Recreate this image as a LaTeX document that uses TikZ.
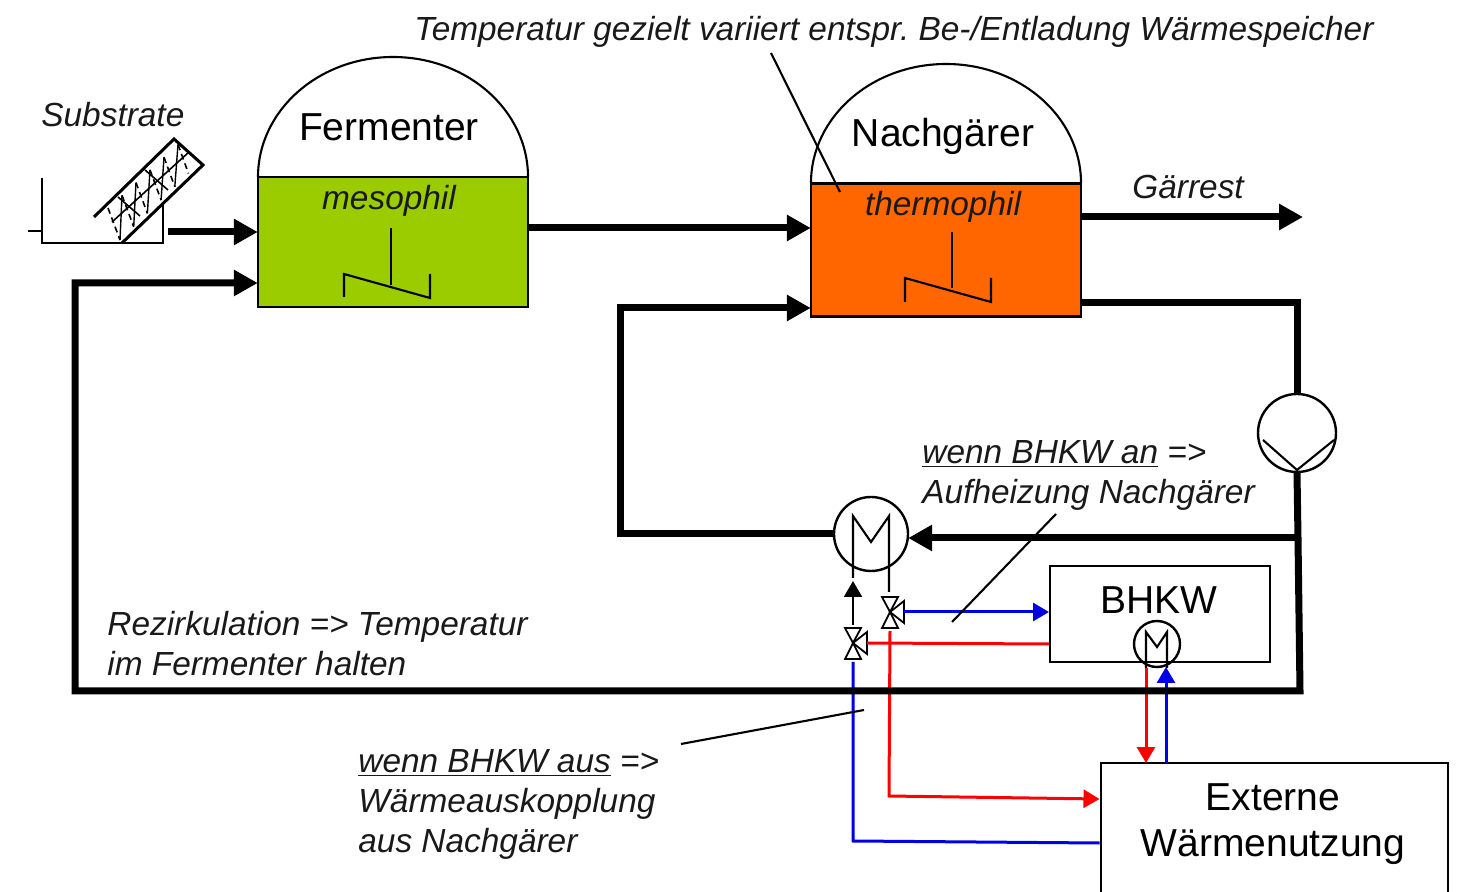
\documentclass[tikz,border=0pt]{standalone}
\usepackage{fontspec}
\setmainfont{Liberation Sans}
\usetikzlibrary{arrows.meta,positioning,calc}

\begin{document}
\begin{tikzpicture}[
    x=0.5pt, y=-0.5pt,
    tank/.style={rectangle, draw=black, line width=1.2pt, minimum width=135pt, inner sep=0pt},
    unit/.style={rectangle, draw=black, line width=1pt, inner sep=0pt},
    exch/.style={circle, draw=black, line width=1.2pt, inner sep=0pt},
    title/.style={font=\fontsize{19.5}{23}\selectfont},
    note/.style={font=\fontsize{16.7}{20}\selectfont\itshape, align=left, inner sep=0pt, text=black!90},
    thin/.style={line width=1.05pt},
    pipe/.style={line width=3.5pt, miter limit=10},
    flow/.style={pipe, -{Triangle[length=12pt,width=12.5pt]}, shorten >=-0.5pt},
    hot/.style={draw=red, line width=1.5pt},
    cold/.style={draw=blue!90!black, line width=1.5pt},
    tiny/.style={-{Triangle[length=8pt,width=9pt]}},
    valve/.pic={
        \draw[line width=0.9pt, fill=white] (0,0) -- (-8,-15) -- (8,-15) -- cycle;
        \draw[line width=0.9pt, fill=white] (0,0) -- (-8,16) -- (8,16) -- cycle;
        \draw[line width=0.9pt, fill=white] (0,0) -- (14,-11) -- (14,11) -- cycle;
        \coordinate (-top) at (0,-18);
        \coordinate (-bot) at (0,19);
        \coordinate (-side) at (14,0);
    }
]
\useasboundingbox (0,0) rectangle (1462,892);
\clip (0,0) rectangle (1462,892);

% TANKS
\draw[thin] (258,177) arc[start angle=180, end angle=360, x radius=135, y radius=120];
\draw[thin] (811,183) arc[start angle=180, end angle=360, x radius=135, y radius=119];
\node[tank, fill={rgb,255:red,154;green,204;blue,0}, minimum height=65pt] (fermenter) at (393,242) {};
\node[tank, fill={rgb,255:red,255;green,102;blue,0}, minimum height=66.5pt] (nachgaerer) at (946,250) {};

\node[title] (fermtext) at (389,127) {Fermenter};
\node[title] (nachtext) at (943,136) {Nachgärer};
\node[note] (meso) at (389,201) {mesophil};
\node[note] (thermo) at (943,207) {thermophil};

% stirrers
\draw[thin] (391,228) -- (391,285);
\draw[thin] (344,297) -- (344,274) -- (430,298) -- (430,274);
\draw[thin] (952,232) -- (952,288);
\draw[thin] (905,302) -- (905,278) -- (991,302) -- (991,278);

% SUBSTRATE FEED
\node[note, anchor=west] (subtext) at (41,115) {Substrate};
\coordinate (hopstub) at (28,231);
\coordinate (hopa) at (42,178);
\coordinate (hopb) at (42,243);
\coordinate (hopc) at (163,243);
\coordinate (hopd) at (163,205);
\draw[line width=1.3pt] (hopa) -- (hopb) -- (hopc) -- (hopd);
\draw[line width=1.3pt] (hopstub) -- (42,231);
\draw[line width=1.5pt] (94,217) -- (174,139) -- (203,165) -- (122,243);
\draw[line width=0.8pt] (112,222) -- (189,152);
\draw[line width=0.8pt] (118,197) -- (140,216);
\draw[line width=0.8pt] (145,170) -- (168,190);
\foreach \i in {0,...,5} {
    \draw[line width=0.8pt, densely dashed] ({108+14*\i},{208-12.7*\i}) -- ({120+13.7*\i},{240-13.3*\i});
}
\foreach \i in {0,...,4} {
    \draw[line width=0.7pt] ({120+13.7*\i},{240-13.3*\i}) -- ({122+14*\i},{195.3-12.7*\i});
}

% HEAT UNITS
\node[unit, minimum width=110pt, minimum height=48pt] (bhkw) at (1160,614) {};
\node[title] (bhkwtext) at (1159,600) {BHKW};
\node[unit, minimum width=173.5pt, minimum height=80pt] (extern) at (1274,843) {};
\node[title, align=center] (externtext) at (1273,824) {Externe\\Wärmenutzung};
\node[exch, minimum size=37pt] (hxmain) at (871,534) {};
\node[exch, minimum size=23pt] (hxsmall) at (1157,644) {};
\node[exch, minimum size=39pt] (pump) at (1297,433) {};

\draw[thin] (1263,440) -- (1297,470) -- (1334,440);

% heat exchanger tubes
\coordinate (hxleft) at (853,578);
\coordinate (hxright) at (889,592);
\draw[thin] (hxleft) -- (853,516) -- (871,542) -- (889,516) -- (hxright);
\draw[thin] (1146,668) -- (1146,632) -- (1157,647) -- (1167,632) -- (1167,668);

% valves
\pic (valveup) at (890,612) {valve};
\pic (valvelow) at (853,643) {valve};

\coordinate (hotback) at (889,796);
\coordinate (hotin) at (extern.west |- 0,799);
\coordinate (coldout) at (extern.west |- 0,843);
\coordinate (coldback) at (853,841);

% WATER CIRCUITS
\draw[hot, tiny] (valveup-bot) -- (hotback) -- (hotin);
\draw[hot] (bhkw.west |- 0,644) -- (valvelow-side);
\draw[cold] (valvelow-bot) -- (coldback) -- (coldout);
\draw[cold, tiny] (valveup-side) -- (bhkw.west |- valveup-side);
\draw[hot, tiny] (1146,668) -- (1146,763);
\draw[cold, tiny] (1166,763) -- (1166,667);
\draw[thin, tiny] (valvelow-top) -- (853,581);

% MAIN PIPES
\coordinate (feed) at (168,232);
\coordinate (retcorner) at (75,283);
\coordinate (retlow) at (75,691);
\coordinate (retright) at (1300,691);
\coordinate (tee) at (1298,538);
\coordinate (outcorner) at (1297,303);
\coordinate (hxcorner) at (620,534);
\coordinate (hxup) at (620,308);
\coordinate (gaerrest) at (1302,217);

\draw[flow] (tee) -- (retright) -- (retlow) -- (retcorner) -- (fermenter.west |- retcorner);
\draw[flow] (feed) -- (fermenter.west |- feed);
\draw[flow] (fermenter.east |- 0,228) -- (nachgaerer.west |- 0,228);
\draw[flow] (nachgaerer.east |- gaerrest) -- (gaerrest);
\draw[pipe] (nachgaerer.east |- outcorner) -- (outcorner) -- (pump.north);
\draw[pipe] (pump.south) -- (tee);
\draw[flow] (tee) -- (hxmain.east |- tee);
\draw[flow] (hxmain.west) -- (hxcorner) -- (hxup) -- (nachgaerer.west |- hxup);

% NOTES
\node[note, anchor=west] (tempnote) at (414,32) {Temperatur gezielt variiert entspr.\ Be-/Entladung Wärmespeicher};
\node[note, anchor=west] (gaerest) at (1132,187) {Gärrest};
\node[note, anchor=north west] (annote) at (922,440) {\underline{wenn BHKW an} =>\\Aufheizung Nachgärer};
\node[note, anchor=north west] (reznote) at (107,611) {Rezirkulation => Temperatur\\im Fermenter halten};
\node[note, anchor=north west] (ausnote) at (358,749) {\underline{wenn BHKW aus} =>\\Wärmeauskopplung\\aus Nachgärer};

\coordinate (tempend) at (840,192);
\coordinate (anend) at (952,622);
\coordinate (ausend) at (864,710);
\draw[thin] (771,53) -- (tempend);
\draw[thin] (1056,514) -- (anend);
\draw[thin] (681,744) -- (ausend);

\end{tikzpicture}
\end{document}
